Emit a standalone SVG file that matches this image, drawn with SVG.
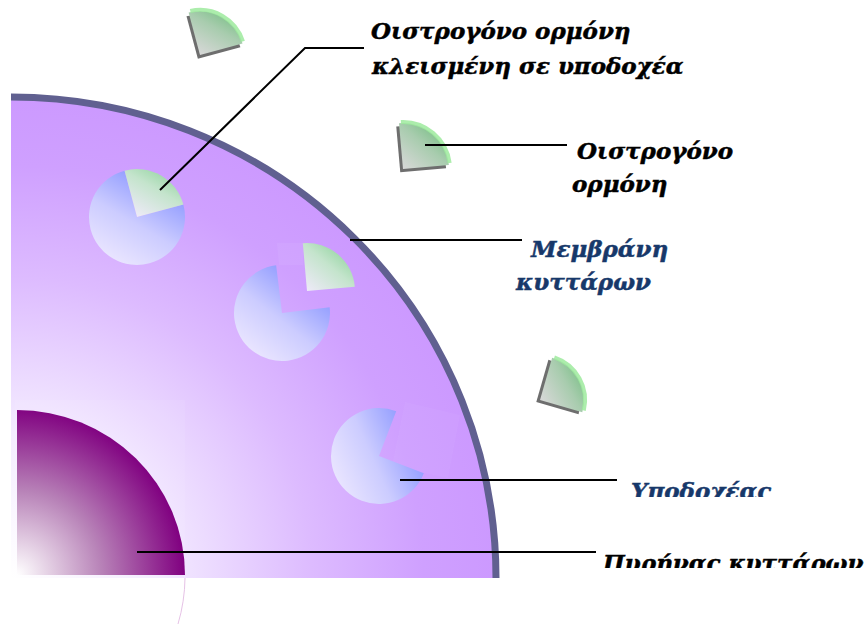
<svg xmlns="http://www.w3.org/2000/svg" width="865" height="624" viewBox="0 0 865 624">
  <defs>
    <radialGradient id="cellFill" gradientUnits="userSpaceOnUse" cx="11" cy="578" r="485">
      <stop offset="0" stop-color="#FFFFFF"/>
      <stop offset="0.3" stop-color="#F4ECFF"/>
      <stop offset="0.62" stop-color="#DDBBFF"/>
      <stop offset="0.85" stop-color="#CFA0FF"/>
      <stop offset="1" stop-color="#CC99FF"/>
    </radialGradient>
    <radialGradient id="nucFill" gradientUnits="userSpaceOnUse" cx="17" cy="575" r="168">
      <stop offset="0" stop-color="#FFFFFF"/>
      <stop offset="0.5" stop-color="#B883B8"/>
      <stop offset="1" stop-color="#800080"/>
    </radialGradient>
    <linearGradient id="recFill" x1="0" y1="1" x2="1" y2="0">
      <stop offset="0" stop-color="#F6F0FF"/>
      <stop offset="0.45" stop-color="#CCCCFF"/>
      <stop offset="1" stop-color="#6A7CFF"/>
    </linearGradient>
    <linearGradient id="boundFill" x1="0" y1="1" x2="1" y2="0">
      <stop offset="0" stop-color="#EEEAF8"/>
      <stop offset="0.5" stop-color="#C4E4CC"/>
      <stop offset="1" stop-color="#7ACC8A"/>
    </linearGradient>
    <linearGradient id="freeFill" x1="0" y1="1" x2="1" y2="0">
      <stop offset="0" stop-color="#D8D8D8"/>
      <stop offset="0.5" stop-color="#A8CCAE"/>
      <stop offset="1" stop-color="#62B872"/>
    </linearGradient>
    <!-- receptor: disc with an open quarter notch at upper right -->
    <path id="receptor" d="M0,0 L48,0 A48,48 0 1 1 0,-48 Z"/>
    <clipPath id="recvLabelClip"><rect x="600" y="460" width="265" height="37"/></clipPath>
    <clipPath id="nucLabelClip"><rect x="590" y="535" width="275" height="33"/></clipPath>
  </defs>
  <style>
    .lbl { font-family: "DejaVu Serif", "Liberation Serif", serif; font-size: 23px; font-weight: bold; font-style: italic; fill: #000000; stroke: #000000; stroke-width: 0.5; }
    .blue { fill: #17386A; stroke: #17386A; }
    .lead { fill: none; stroke: #000000; stroke-width: 2; }
    .shadow { fill: #6E6E6E; }
    .rim { fill: none; stroke: #9EEA9E; stroke-width: 4; stroke-opacity: 0.85; }
  </style>

  <!-- cell body (quarter section) -->
  <g id="cell">
    <path d="M11,97 A485,481 0 0 1 496,578 L11,578 Z" fill="url(#cellFill)"/>
    <rect x="15" y="400" width="170" height="178" fill="#FFFFFF" opacity="0.07"/>
    <path d="M11,97 A485,481 0 0 1 496,578" fill="none" stroke="#606090" stroke-width="7"/>
  </g>

  <!-- nucleus -->
  <g id="nucleus">
    <path d="M17,410 A168,165 0 0 1 185,575 L17,575 Z" fill="url(#nucFill)"/>
    <path d="M185,578 A168,168 0 0 1 178,624" fill="none" stroke="#E6C2E6" stroke-width="1"/>
  </g>

  <!-- receptor with bound hormone -->
  <g id="receptor1" transform="translate(137,217) rotate(-15)">
    <use href="#receptor" fill="url(#recFill)"/>
    <path d="M0,0 L0,-48 A48,48 0 0 1 48,0 Z" fill="url(#boundFill)"/>
  </g>

  <!-- receptor with hormone docking -->
  <g id="receptor2">
    <path d="M277,243 L303,243 L303,265 L279,265 Z" fill="#FFFFFF" opacity="0.06"/>
    <use href="#receptor" fill="url(#recFill)" transform="translate(282,313) rotate(-7)"/>
    <path d="M0,0 L0,-48 A48,48 0 0 1 48,0 Z" fill="url(#boundFill)" transform="translate(307,291) rotate(-5)"/>
  </g>

  <!-- empty receptor -->
  <g id="receptor3">
    <path d="M405,402 L460,415 L448,478 L392,466 Z" fill="#FFFFFF" opacity="0.04"/>
    <use href="#receptor" fill="url(#recFill)" transform="translate(379,456) rotate(21)"/>
  </g>

  <!-- free hormones outside the cell -->
  <g id="hormone1" transform="translate(200,55) rotate(-15)">
    <path d="M-3,3 L-3,-41 A44,44 0 0 1 41,3 Z" class="shadow"/>
    <path d="M0,0 L0,-44 A44,44 0 0 1 44,0 Z" fill="url(#freeFill)"/>
    <path d="M2,-45 A45,45 0 0 1 45,-2" class="rim"/>
  </g>
  <g id="hormone2" transform="translate(403,169) rotate(-5)">
    <path d="M-3,3 L-3,-43 A46,46 0 0 1 43,3 Z" class="shadow"/>
    <path d="M0,0 L0,-46 A46,46 0 0 1 46,0 Z" fill="url(#freeFill)"/>
    <path d="M2,-47 A47,47 0 0 1 47,-2" class="rim"/>
  </g>
  <g id="hormone3" transform="translate(540,400) rotate(16)">
    <path d="M-3,3 L-3,-41 A44,44 0 0 1 41,3 Z" class="shadow"/>
    <path d="M0,0 L0,-44 A44,44 0 0 1 44,0 Z" fill="url(#freeFill)"/>
    <path d="M2,-45 A45,45 0 0 1 45,-2" class="rim"/>
  </g>

  <!-- leader lines -->
  <g id="connectors">
    <polyline class="lead" points="160,190 305,48 364,48"/>
    <line class="lead" x1="425" y1="145" x2="567" y2="145"/>
    <line class="lead" x1="350" y1="240" x2="522" y2="240"/>
    <line class="lead" x1="400" y1="480" x2="617" y2="480"/>
    <line class="lead" x1="137" y1="552" x2="596" y2="552"/>
  </g>

  <!-- labels -->
  <g id="label-bound">
    <text class="lbl" x="371" y="39">Οιστρογόνο ορμόνη</text>
    <text class="lbl" x="372" y="74">κλεισμένη σε υποδοχέα</text>
  </g>
  <g id="label-hormone">
    <text class="lbl" x="577" y="159">Οιστρογόνο</text>
    <text class="lbl" x="572" y="192">ορμόνη</text>
  </g>
  <g id="label-membrane">
    <text class="lbl blue" x="531" y="257">Μεμβράνη</text>
    <text class="lbl blue" x="516" y="290">κυττάρων</text>
  </g>
  <g id="label-receptor" clip-path="url(#recvLabelClip)">
    <text class="lbl blue" x="631" y="499">Υποδοχέας</text>
  </g>
  <g id="label-nucleus" clip-path="url(#nucLabelClip)">
    <text class="lbl" x="603" y="571">Πυρήνας κυττάρων</text>
  </g>
</svg>
